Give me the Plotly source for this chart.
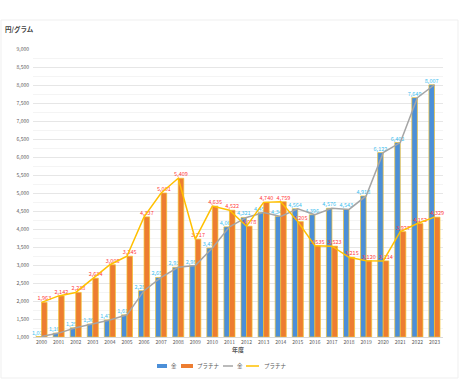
import plotly.graph_objects as go

years = [str(y) for y in range(2000, 2024)]
gold = [1014, 1108, 1256, 1360, 1473, 1616, 2287, 2654, 2936, 2983, 3471, 4060,
        4321, 4456, 4349, 4564, 4396, 4576, 4543, 4918, 6122, 6402, 7649, 8007]
platinum = [1963, 2142, 2238, 2634, 3008, 3245, 4337, 5001, 5409, 3717, 4635, 4522,
            4078, 4740, 4759, 4205, 3535, 3523, 3215, 3120, 3114, 3927, 4152, 4329]
y_ticks = list(range(1000, 9001, 500))

FONT = "Noto Sans CJK JP"
BLUE, ORANGE, GRAY, YELLOW = "#4b8fd8", "#ed7d31", "#a5a5a5", "#ffc000"

fig = go.Figure()
fig.add_trace(go.Bar(
    x=years, y=[v - 1000 for v in gold], base=1000, name="金",
    marker=dict(color=BLUE, line=dict(color="#f2c230", width=0.7)),
    text=[f"{v:,}" for v in gold], textposition="outside", constraintext="none",
    cliponaxis=False, textfont=dict(size=5.5, color="#3ec0ef", family=FONT),
))
fig.add_trace(go.Bar(
    x=years, y=[v - 1000 for v in platinum], base=1000, name="プラチナ",
    marker=dict(color=ORANGE, line=dict(color="#f2c230", width=0.7)),
    text=[f"{v:,}" for v in platinum], textposition="outside", constraintext="none",
    cliponaxis=False, textfont=dict(size=5.5, color="#ff3d3d", family=FONT),
))
fig.add_trace(go.Scatter(
    x=years, y=gold, name="金", mode="lines",
    line=dict(color=GRAY, width=1.5),
))
fig.add_trace(go.Scatter(
    x=years, y=platinum, name="プラチナ", mode="lines",
    line=dict(color=YELLOW, width=1.5),
))

# plot area in pixels: left 33, width 410, top 49, height 288
def px(xp):
    return (xp - 33) / 410

def py(yp):
    return (337 - yp) / 288

LEG_Y = 366
legend_items = [
    ("rect", BLUE, 157, 167, "金", 169),
    ("rect", ORANGE, 181, 193, "プラチナ", 195),
    ("line", GRAY, 223, 233, "金", 235),
    ("line", YELLOW, 246, 259, "プラチナ", 262),
]
shapes, annotations = [], []
# faint outer frame of the chart card
shapes.append(dict(type="rect", xref="paper", yref="paper",
                   x0=px(1), x1=px(458), y0=py(378), y1=py(20),
                   line=dict(color="#efefef", width=1), layer="below"))
for kind, col, x0, x1, label, tx in legend_items:
    if kind == "rect":
        shapes.append(dict(type="rect", xref="paper", yref="paper",
                           x0=px(x0), x1=px(x1), y0=py(LEG_Y + 2), y1=py(LEG_Y - 2),
                           fillcolor=col, line=dict(width=0)))
    else:
        shapes.append(dict(type="line", xref="paper", yref="paper",
                           x0=px(x0), x1=px(x1), y0=py(LEG_Y), y1=py(LEG_Y),
                           line=dict(color=col, width=1.5)))
    annotations.append(dict(text=label, x=px(tx), y=py(LEG_Y), xref="paper", yref="paper",
                            xanchor="left", yanchor="middle", showarrow=False,
                            font=dict(size=5.5, color="#595959")))

annotations.append(dict(text="<b>円/グラム</b>", x=px(3), y=py(29),
                        xref="paper", yref="paper",
                        xanchor="left", yanchor="middle", showarrow=False,
                        font=dict(size=6.5, color="#404040")))

fig.update_layout(
    width=460, height=381,
    paper_bgcolor="white", plot_bgcolor="white",
    margin=dict(l=33, r=17, t=49, b=44, autoexpand=False),
    barmode="group", bargap=0.35, bargroupgap=0,
    font=dict(family=FONT, size=5, color="#595959"),
    showlegend=False,
    xaxis=dict(
        type="category", tickfont=dict(size=5), ticks="", showgrid=False,
        showline=True, linecolor="#d9d9d9", linewidth=0.8, automargin=False,
        title=dict(text="<b>年度</b>", font=dict(size=6, color="#595959"), standoff=2),
    ),
    yaxis=dict(
        range=[1000, 9000], tickvals=y_ticks, tickformat=",d", automargin=False,
        tickfont=dict(size=5), gridcolor="#e6e6e6", gridwidth=0.8,
        zeroline=False, ticks="", ticklabelstandoff=3,
        minor=dict(dtick=250, showgrid=True, gridcolor="#f4f4f4", gridwidth=0.6),
    ),
    shapes=shapes,
    annotations=annotations,
)

fig.write_html("out.html", config={"displayModeBar": False},
               post_script="document.body.style.margin='0';")
